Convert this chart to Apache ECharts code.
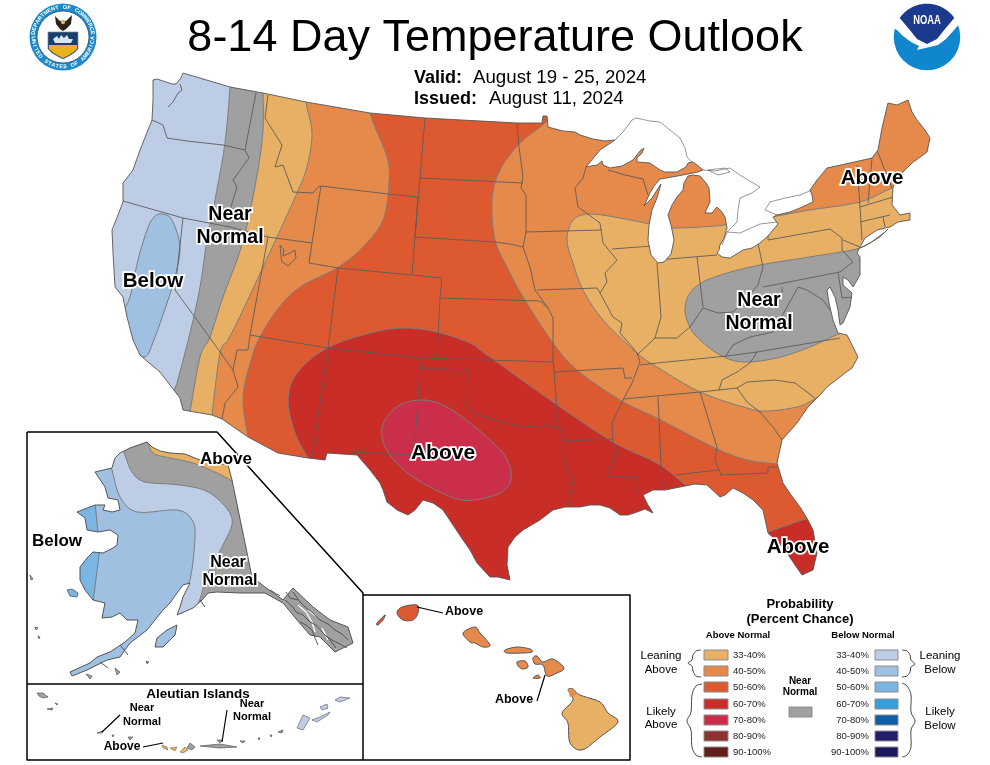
<!DOCTYPE html>
<html><head><meta charset="utf-8">
<style>html,body{margin:0;padding:0;background:#fff}#c{width:990px;height:765px}</style>
<script src="https://cdn.jsdelivr.net/npm/echarts@6/dist/echarts.min.js"></script>
</head><body><div id="c"></div>
<script>
// ---------- text ----------
const chartTitle = '8-14 Day Temperature Outlook';
const validLabel = 'Valid:', validText = 'August 19 - 25, 2024';
const issuedLabel = 'Issued:', issuedText = 'August 11, 2024';
const legendRanges = ['33-40%','40-50%','50-60%','60-70%','70-80%','80-90%','90-100%'];

// ---------- probability colours ----------
const aboveColors = ['#E8B064','#E58A4B','#DD5A30','#C82D28','#CB2E4A','#8F3230','#5F1F18'];
const belowColors = ['#BECDE6','#9FC0E0','#7BB5E4','#36A0DC','#0F5FA8','#241E6B','#1C1A5C'];
const nearColor = '#A0A0A0';

// ---------- CONUS geography ----------
const usOutline = [[153,80],[157,79],[172,84],[176,84],[181,78],[183,73],[230,87],[263,93],[306,102],[370,113],[425,118],[517,123],[542,123],[543,116],[547,116],[548,127],[563,131],[575,132],[580,135],[593,139],[605,141],[615,140],[600,150],[586,167],[597,165],[602,161],[603,165],[610,168],[622,166],[633,160],[640,151],[644,148],[642,153],[637,158],[637,162],[650,163],[660,170],[665,172],[677,172],[686,167],[688,163],[693,162],[697,165],[703,170],[698,172],[688,174],[672,177],[660,179],[654,186],[650,193],[644,206],[652,198],[657,190],[661,184],[657,198],[652,210],[649,225],[648,240],[651,255],[658,263],[664,262],[671,254],[674,240],[671,225],[668,215],[672,205],[677,197],[683,190],[684,183],[688,176],[693,175],[700,176],[706,183],[709,188],[710,202],[705,213],[712,213],[717,207],[722,212],[725,217],[727,228],[724,238],[720,245],[719,250],[717,253],[722,257],[730,258],[743,250],[752,248],[760,243],[768,236],[778,224],[773,217],[777,215],[790,212],[800,208],[813,202],[812,195],[810,190],[817,180],[827,168],[850,163],[872,158],[878,150],[882,128],[888,103],[897,105],[908,100],[912,112],[917,120],[925,130],[930,138],[927,152],[912,163],[902,173],[893,187],[892,205],[900,215],[910,213],[910,220],[898,222],[890,227],[877,230],[865,238],[860,247],[857,253],[860,257],[860,275],[853,287],[848,280],[843,277],[843,285],[852,293],[850,307],[843,323],[840,325],[838,310],[835,297],[830,287],[827,290],[829,303],[833,320],[838,333],[847,335],[852,345],[858,357],[852,368],[845,373],[840,377],[827,387],[820,395],[808,407],[797,423],[782,440],[777,463],[783,483],[791,495],[800,507],[808,520],[813,530],[817,553],[813,570],[802,575],[795,565],[787,553],[778,542],[768,533],[763,510],[753,500],[743,493],[733,488],[725,495],[720,497],[707,485],[695,484],[680,487],[665,490],[653,490],[643,495],[648,505],[653,513],[645,509],[637,512],[628,515],[620,515],[610,508],[600,505],[590,505],[580,507],[565,507],[553,510],[540,520],[523,530],[515,537],[508,547],[507,565],[510,580],[498,577],[490,577],[477,563],[470,550],[463,540],[453,525],[443,510],[433,503],[423,500],[415,510],[408,515],[397,510],[387,502],[383,490],[380,483],[370,470],[357,455],[327,453],[325,460],[308,458],[278,453],[248,437],[222,419],[212,415],[183,410],[180,398],[170,385],[160,372],[148,362],[140,355],[133,340],[127,317],[123,297],[115,287],[113,253],[112,230],[118,215],[123,202],[123,183],[133,170],[140,150],[148,130],[152,120],[153,100]];
const longIsland = [[860,248],[870,243],[885,232],[888,229],[880,237],[865,246]];
const usMaskFrame = [[80,55],[965,55],[965,640],[80,640]];

const stateLines = [
 [[152,120],[163,125],[167,138],[187,141],[223,145],[245,150]],
 [[256,93],[245,150],[249,158],[233,180],[237,187],[230,210]],
 [[123,201],[183,218],[230,227],[268,237],[312,243]],
 [[183,218],[175,290],[197,320],[233,370]],
 [[268,237],[250,335],[248,350],[237,350],[233,370],[238,387],[225,403],[222,419]],
 [[250,335],[328,348]],
 [[312,243],[309,263],[338,268],[328,348],[312,458]],
 [[268,95],[265,118],[282,145],[275,167],[283,165],[293,192],[313,193],[318,187],[321,186]],
 [[321,186],[312,243]],
 [[321,186],[388,194],[418,197],[415,237],[412,275]],
 [[338,268],[412,275],[442,278],[440,298],[437,357]],
 [[425,118],[420,178],[415,237]],
 [[420,178],[523,183]],
 [[415,237],[495,242],[510,244],[523,247]],
 [[440,298],[540,301],[548,308],[553,318],[553,362],[554,372],[557,407],[557,428]],
 [[328,348],[422,358],[553,362]],
 [[422,358],[420,368],[468,370],[467,408],[478,415],[497,420],[513,425],[527,427],[547,425],[563,430],[564,462],[573,480],[568,505]],
 [[420,368],[418,400],[414,455],[354,452]],
 [[517,123],[519,147],[523,177],[521,188],[526,195],[526,232],[523,247],[530,267],[535,290],[548,308]],
 [[526,232],[602,230]],
 [[537,290],[597,288],[600,293]],
 [[554,372],[623,368],[625,378],[632,378]],
 [[564,441],[612,439]],
 [[586,167],[583,178],[575,188],[578,207],[600,223],[603,243],[617,260],[605,273],[607,282],[600,293],[613,317],[622,323],[620,333],[633,348],[637,353],[640,362],[632,383],[623,400],[612,423],[613,443],[617,452],[607,477],[637,477],[638,493]],
 [[608,170],[625,175],[643,179],[648,195]],
 [[612,249],[652,246]],
 [[657,263],[661,317],[655,338],[637,355]],
 [[657,260],[717,255]],
 [[697,257],[703,307]],
 [[655,338],[677,338],[690,327],[703,308],[718,313],[733,312],[745,300],[758,285],[763,267],[758,243]],
 [[640,365],[657,363],[727,356],[757,352],[840,338]],
 [[623,399],[700,392],[719,390],[737,388],[747,382],[775,380],[795,383],[815,398]],
 [[757,352],[750,363],[737,372],[722,380],[719,390]],
 [[737,388],[747,402],[760,412],[773,427],[782,440]],
 [[658,396],[662,488]],
 [[700,392],[717,447],[715,460],[721,475],[768,473],[768,467],[777,467]],
 [[675,475],[718,470]],
 [[725,357],[733,345],[750,337],[773,332],[787,307],[798,287],[807,290],[823,300],[830,310]],
 [[782,287],[782,293]],
 [[763,287],[840,272],[853,262],[842,250],[842,238],[830,229],[768,240],[768,223]],
 [[843,240],[860,247]],
 [[838,272],[842,298],[852,297]],
 [[857,165],[860,207],[862,240]],
 [[872,158],[868,203]],
 [[877,150],[892,188]],
 [[860,207],[893,197]],
 [[860,222],[890,215]],
 [[883,217],[885,227]],
 [[280,245],[284,250],[283,256],[290,253],[295,250],[296,258],[288,266],[282,262],[281,256],[280,245]],
 [[168,107],[173,102],[178,93],[182,90],[180,84]]
];
const canadaShores = [
 [[615,140],[623,132],[632,120],[636,118],[650,121],[660,122],[670,130],[680,138],[685,148],[687,157],[692,162]],
 [[703,170],[715,171],[730,168],[740,175],[748,180],[760,187],[752,193],[740,198],[738,210],[737,222],[727,232],[722,245]],
 [[708,170],[725,168],[730,172],[718,175],[708,170]],
 [[727,232],[740,233],[760,224],[777,222]],
 [[777,215],[765,210],[770,202],[785,198],[800,195],[812,190]]
];

// ---------- CONUS outlook areas (painted back to front; trailing points lie outside the map) ----------
const areaBaseOrange = [[90,60],[960,60],[960,600],[90,600]];
const areaEastYellow = [[930,175],[892,188],[860,202],[810,210],[777,216],[725,225],[672,228],[650,224],[620,218],[590,214],[573,220],[567,240],[573,263],[583,290],[603,320],[637,353],[657,367],[700,392],[747,408],[767,411],[797,407],[813,400],[823,393],[850,395],[950,300]];
const areaEastGray = [[685,308],[690,293],[703,282],[727,273],[760,265],[803,258],[853,250],[875,245],[885,270],[880,330],[845,332],[810,347],[777,358],[743,362],[720,355],[697,337],[688,323]];
const areaRed50 = [[560,100],[546,122],[520,143],[500,170],[492,200],[495,240],[507,267],[523,297],[553,343],[577,370],[620,400],[657,418],[713,447],[747,460],[778,464],[830,468],[830,600],[90,600],[90,60],[400,60]];
const areaWestOrange = [[370,85],[370,113],[387,157],[389,183],[383,220],[363,247],[337,268],[300,287],[277,310],[260,337],[252,357],[243,397],[248,437],[245,470],[90,470],[90,60]];
const areaWestYellow = [[306,80],[306,102],[312,133],[307,167],[297,193],[277,237],[263,267],[243,310],[228,340],[220,353],[212,415],[205,440],[90,440],[90,60]];
const areaWestGray = [[263,80],[263,93],[263,130],[258,170],[247,225],[238,257],[223,297],[210,337],[200,357],[190,412],[185,430],[90,430],[90,60]];
const areaWestBlue33 = [[230,70],[230,87],[225,143],[215,200],[207,240],[200,287],[190,333],[177,383],[170,400],[90,400],[90,60]];
const areaWestBlue40 = [[162,214],[172,220],[180,247],[175,277],[168,300],[155,337],[145,357],[130,345],[120,320],[130,297],[138,260],[147,230],[154,217]];
const areaRed60 = [[308,458],[295,433],[288,400],[297,373],[327,348],[370,333],[403,328],[437,332],[470,343],[480,350],[497,362],[553,402],[613,442],[657,463],[683,483],[700,495],[700,600],[300,600],[300,470]];
const areaFloridaRed60 = [[768,532],[785,526],[802,520],[825,515],[830,590],[770,590]];
const areaRed70 = [[382,437],[385,420],[400,405],[423,400],[445,406],[470,423],[490,440],[502,452],[510,467],[510,483],[500,493],[480,499],[462,500],[440,492],[410,475],[390,455]];

// ---------- Alaska ----------
const insetFrame = [[27,432],[217,432],[363,593],[363,684],[27,684]];
const alaskaOutline = [[120,453],[130,448],[147,442],[152,447],[160,451],[170,453],[185,454],[200,460],[215,463],[228,465],[232,480],[252,577],[265,587],[283,600],[293,588],[313,607],[330,620],[348,627],[353,643],[335,652],[320,637],[310,635],[297,620],[283,603],[265,593],[240,593],[217,592],[208,593],[202,600],[193,608],[177,615],[180,607],[183,597],[190,583],[183,585],[177,593],[170,603],[163,610],[147,630],[130,643],[120,657],[107,660],[87,670],[72,676],[70,672],[90,663],[97,657],[110,652],[125,642],[135,633],[138,620],[127,620],[120,613],[112,617],[102,618],[105,603],[93,600],[85,590],[80,580],[80,567],[87,558],[93,552],[103,553],[113,548],[117,545],[118,535],[110,530],[98,532],[87,530],[85,518],[77,512],[95,505],[105,505],[103,510],[112,512],[120,510],[118,500],[108,498],[105,487],[95,472],[112,468],[115,458]];
const alaskaBlue33 = [[122,446],[125,455],[132,472],[145,482],[180,485],[210,493],[232,518],[223,545],[207,575],[201,596],[197,606],[190,625],[40,625],[40,446]];
const alaskaBlue40 = [[108,460],[112,470],[120,497],[137,512],[177,510],[192,520],[195,537],[190,580],[179,600],[170,622],[155,650],[150,680],[40,680],[40,460]];
const alaskaBlue50North = [[95,502],[98,533],[70,533],[70,502]];
const alaskaBlue50South = [[100,548],[93,602],[70,602],[70,548]];
const alaskaYellow = [[147,439],[153,453],[170,458],[193,463],[217,473],[232,481],[236,470],[200,445]];
const kodiak = [[155,647],[157,638],[167,630],[177,625],[175,635],[163,647]];
const stLawrence = [[67,590],[72,589],[78,593],[77,597],[70,596]];
const akSmallIslands = [[[35,627],[38,628],[36,630]],[[38,636],[40,637],[39,639]],[[30,575],[33,579],[31,580]],[[146,661],[149,662],[147,664]],[[115,668],[120,672],[117,675]],[[86,674],[92,676],[90,679]]];
const panhandleDark = [[[285,600],[292,606],[296,612],[303,615],[310,622],[316,625],[322,632],[330,640],[336,648]],[[293,592],[300,602],[305,607],[313,613],[320,620],[328,624],[335,630],[342,634],[348,640]],[[300,622],[306,625],[312,630],[315,638],[318,645]],[[286,592],[290,598],[298,600]],[[326,636],[332,640],[340,644],[347,648]],[[270,590],[280,596]],[[120,645],[128,655]],[[100,662],[108,668]],[[200,600],[205,607]]];
const panhandleWhite = [[[298,605],[306,612],[312,622],[315,632]],[[308,610],[316,616]],[[322,628],[328,640]]];

// ---------- Aleutians ----------
const aleutianGray = [[[37,693],[43,693],[48,697],[43,698],[39,696]],[[47,709],[53,708],[52,710]],[[55,703],[58,704],[57,705]],[[97,733],[103,731],[102,733]],[[112,735],[114,735],[113,737]],[[128,737],[133,737],[130,740]],[[190,743],[195,747],[192,750],[187,748]],[[200,746],[220,744],[237,747],[220,748]],[[217,740],[222,740],[220,743]],[[240,741],[245,741],[243,743]],[[258,738],[260,738],[259,740]],[[270,735],[272,735],[271,737]],[[278,732],[283,730],[282,733]]];
const aleutianYellow = [[[162,745],[167,747],[168,750],[163,748]],[[170,748],[177,747],[175,751]],[[180,752],[185,747],[188,750],[183,753]]];
const aleutianBlue = [[[297,728],[303,715],[310,718],[303,730]],[[312,720],[320,717],[330,712],[328,715],[317,722]],[[320,707],[327,704],[328,708],[322,710]],[[335,700],[340,697],[350,698],[340,702]]];

// ---------- Hawaii ----------
const kauai = [[397,613],[402,607],[417,605],[418,613],[413,620],[403,620]];
const niihau = [[377,623],[385,615],[383,620],[378,625]];
const oahu = [[463,633],[475,627],[480,633],[490,645],[483,647],[475,643],[470,642]];
const molokai = [[505,650],[517,647],[530,649],[532,652],[523,653],[507,653]];
const lanai = [[517,662],[525,661],[528,667],[523,669],[519,667]];
const maui = [[533,658],[537,656],[543,662],[553,659],[564,668],[557,673],[547,676],[543,665],[535,664]];
const kahoolawe = [[533,678],[538,675],[540,678]];
const bigIsland = [[568,690],[573,689],[580,695],[600,702],[608,713],[618,722],[600,737],[582,750],[570,743],[568,723],[562,713],[573,700]];
const bigIslandTip = [[568,690],[573,689],[578,694],[570,697]];

// ---------- frames, leaders ----------
const frames = [[[27,432],[217,432],[363,593],[363,760]],[[27,684],[363,684]],[[27,432],[27,760],[363,760]],[[363,595],[630,595],[630,760],[363,760]]];
const leaders = [[[102,732],[120,715]],[[222,742],[227,710]],[[143,747],[163,743]],[[417,607],[443,613]],[[545,675],[537,701]]];

// ---------- map labels [text, x, y, size] ----------
const bigLabels = [['Near',230,215,19.5],['Normal',230,238,19.5],['Below',153,281,20.5],['Above',443,453,21],['Above',872,178,20.5],['Near',759,301,19.5],['Normal',759,324,19.5],['Above',798,547,20.5],['Above',226,459,17],['Below',57,541,17],['Near',228,563,16],['Normal',230,581,16]];
const smallLabels = [['Aleutian Islands',198,694,13.5],['Near',142,708,11],['Normal',142,722,11],['Near',252,704,11],['Normal',252,717,11],['Above',122,747,12],['Above',464,612,12.5],['Above',514,700,12.5]];

// ---------- legend ----------
const legendHeads = [['Probability',800,604,13,'bold'],['(Percent Chance)',800,619,13,'bold'],['Above Normal',738,635,9.5,'bold'],['Below Normal',863,635,9.5,'bold'],['Near',800,681,10,'bold'],['Normal',800,692,10,'bold'],['Leaning',661,656,11.5,'normal'],['Above',661,670,11.5,'normal'],['Likely',661,712,11.5,'normal'],['Above',661,725,11.5,'normal'],['Leaning',940,656,11.5,'normal'],['Below',940,670,11.5,'normal'],['Likely',940,712,11.5,'normal'],['Below',940,726,11.5,'normal']];
const legendRowY = [655,671,687,704,720,736,752];
const braces = [
 [[701,650],[696,651],[693,655],[692,660],[688,663],[692,666],[693,671],[696,676],[701,677]],
 [[702,684],[696,686],[692,695],[691,712],[687,721],[691,730],[692,747],[696,755],[702,757]],
 [[902,650],[907,651],[910,655],[911,660],[915,664],[911,667],[910,672],[907,676],[902,677]],
 [[902,683],[907,686],[911,695],[911,712],[915,721],[911,730],[911,747],[907,755],[902,757]]
];

// ---------- helpers ----------
let zOrder = 1;
function area(rings, fill, opt) {
  opt = opt || {};
  return {type:'custom', coordinateSystem:'cartesian2d', silent:true, clip:false, z:zOrder++,
    encode:{x:0,y:1}, data:rings.map(r=>[r[0][0],r[0][1]]),
    renderItem:(p,api)=>({type:'polygon',
      shape:{points:rings[p.dataIndex].map(q=>api.coord(q)),smooth:opt.smooth||0},
      style:{fill:fill,stroke:opt.stroke||null,lineWidth:opt.width||0}})};
}
function lines(paths, color, width, smooth) {
  return {type:'custom', coordinateSystem:'cartesian2d', silent:true, clip:false, z:zOrder++,
    encode:{x:0,y:1}, data:paths.map(r=>[r[0][0],r[0][1]]),
    renderItem:(p,api)=>({type:'polyline',
      shape:{points:paths[p.dataIndex].map(q=>api.coord(q)),smooth:smooth||0},
      style:{fill:null,stroke:color,lineWidth:width,lineJoin:'round'}})};
}
function texts(items, o) {
  return {type:'custom', coordinateSystem:'cartesian2d', silent:true, clip:false, z:zOrder++,
    encode:{x:1,y:2}, data:items.map(t=>[t[0],t[1],t[2]]), dimensions:['t','x','y'],
    renderItem:(p,api)=>{const t=items[p.dataIndex],c=api.coord([t[1],t[2]]);
      return {type:'text',style:{text:t[0],x:c[0],y:c[1],fontSize:t[3],fontWeight:t[4]||o.weight||'bold',
        fontFamily:o.family||'"Liberation Sans",Arial,sans-serif',fill:o.fill||'#000',
        stroke:o.halo?'#fff':null,lineWidth:o.halo||0,align:t[5]||o.align||'center',verticalAlign:'middle'}};}};
}
function signedArea(r){let s=0;r.forEach((p,i)=>{const q=r[(i+1)%r.length];s+=p[0]*q[1]-q[0]*p[1];});return s;}
function keyhole(outer, hole){
  let h=hole.slice();
  if(signedArea(outer)*signedArea(h)>0) h.reverse();
  const o=outer[0];let k=0,b=1e12;
  h.forEach((p,i)=>{const d=(p[0]-o[0])**2+(p[1]-o[1])**2;if(d<b){b=d;k=i;}});
  const rot=h.slice(k).concat(h.slice(0,k));
  return outer.concat([o]).concat(rot).concat([rot[0]]);
}
// Rounds a drawn contour only; the traced vertices themselves are kept.
function rounded(pts, closed){
  const out=[],n=pts.length,g=i=>closed?pts[(i+n)%n]:pts[Math.max(0,Math.min(n-1,i))];
  const last=closed?n:n-1;
  for(let i=0;i<last;i++){const a=g(i-1),b=g(i),c=g(i+1),d=g(i+2);
    for(let k=0;k<5;k++){const t=k/5,t2=t*t,t3=t2*t;
      out.push([0,1].map(j=>0.5*(2*b[j]+(c[j]-a[j])*t+(2*a[j]-5*b[j]+4*c[j]-d[j])*t2+(3*b[j]-a[j]-3*c[j]+d[j])*t3)));}}
  if(!closed)out.push(pts[n-1]);
  return out;
}
const ZONE='#7d7d7d', COAST='#555555';
const [aY,aO,aR5,aR6,aR7]=aboveColors, [bL,bM,bH]=belowColors;
// offMap = how many trailing points are closure points outside the map; 0 = a closed contour
const z=(r,c,offMap)=>{
  const ring=offMap?rounded(r.slice(0,r.length-offMap),false).concat(r.slice(r.length-offMap)):rounded(r,true);
  return area([ring],c,{stroke:ZONE,width:1});
};

const series=[
  area([areaBaseOrange],aO),
  z(areaEastYellow,aY,2), z(areaEastGray,nearColor,0),
  z(areaRed50,aR5,5), z(areaWestOrange,aO,3), z(areaWestYellow,aY,3),
  z(areaWestGray,nearColor,3), z(areaWestBlue33,bL,3), z(areaWestBlue40,bM,0),
  z(areaRed60,aR6,4), z(areaFloridaRed60,aR6,3), z(areaRed70,aR7,0),
  lines(stateLines,'#5c5c5c',0.9),
  area([keyhole(usMaskFrame,usOutline)],'#ffffff'),
  lines([usOutline.concat([usOutline[0]])],COAST,0.9),
  area([longIsland],aY,{stroke:COAST,width:0.8}),
  lines(canadaShores,'#6a6a6a',0.7),
  // Alaska inset
  area([insetFrame],nearColor),
  z(alaskaBlue33,bL,3), z(alaskaBlue40,bM,3),
  area([alaskaBlue50North,alaskaBlue50South],bH,{stroke:ZONE,width:1}),
  z(alaskaYellow,aY,2),
  area([keyhole(insetFrame,alaskaOutline)],'#ffffff'),
  lines(panhandleWhite,'#ffffff',1.3),
  lines(panhandleDark,'#4a4a4a',0.9),
  lines([alaskaOutline.concat([alaskaOutline[0]])],COAST,1),
  area([kodiak],bM,{stroke:COAST,width:1}),
  area([stLawrence],bH,{stroke:COAST,width:0.8}),
  area(akSmallIslands,nearColor,{stroke:COAST,width:0.7}),
  // Aleutians
  area(aleutianGray,nearColor,{stroke:COAST,width:0.7}),
  area(aleutianYellow,aY,{stroke:COAST,width:0.5}),
  area(aleutianBlue,bL,{stroke:COAST,width:0.6}),
  // Hawaii
  area([kauai,niihau].map(r=>rounded(r,true)),aR5,{stroke:COAST,width:1}),
  area([oahu,molokai,lanai,maui,kahoolawe].map(r=>rounded(r,true)),aO,{stroke:COAST,width:1}),
  area([rounded(bigIsland,true)],aY,{stroke:COAST,width:1}),
  area([bigIslandTip],aO),
  // frames + leaders
  lines(frames,'#000',1.5),
  lines(leaders,'#000',1.2),
  texts(bigLabels,{halo:3.5}),
  texts(smallLabels,{}),
  texts([[validLabel,414,78,18,'bold','left'],[validText,473,78,18.7,'normal','left'],[issuedLabel,414,99,18,'bold','left'],[issuedText,489,99,18.7,'normal','left']],{}),
  // legend
  ...legendRowY.map((y,i)=>area([[[704,y-5],[728,y-5],[728,y+5],[704,y+5]]],aboveColors[i],{stroke:'#8c8c8c',width:1})),
  ...legendRowY.map((y,i)=>area([[[875,y-5],[898,y-5],[898,y+5],[875,y+5]]],belowColors[i],{stroke:'#8c8c8c',width:1})),
  area([[[789,707],[812,707],[812,717],[789,717]]],nearColor,{stroke:'#8c8c8c',width:1}),
  lines(braces.map(b=>rounded(b,false)),'#333',0.9),
  texts(legendHeads,{}),
  texts(legendRanges.map((t,i)=>[t,733,legendRowY[i],9.5,'normal','left']),{fill:'#222'}),
  texts(legendRanges.map((t,i)=>[t,869,legendRowY[i],9.5,'normal','right']),{fill:'#222'})
];

// ---------- logos ----------
function ringLetters(str,cx,cy,r,from,to,top){
  const out=[],n=str.length;
  for(let i=0;i<n;i++){const a=(from+(to-from)*i/(n-1))*Math.PI/180;
    if(str[i]===' ')continue;
    out.push({type:'text',x:cx+r*Math.sin(a),y:top?cy-r*Math.cos(a):cy+r*Math.cos(a),rotation:top?-a:a,z:200,silent:true,
      style:{text:str[i],fill:'#fff',font:'bold 5.4px "Liberation Sans",Arial,sans-serif',align:'center',verticalAlign:'middle'}});}
  return out;
}
function poly(x,y,pts,fill,zv,extra){return {type:'polygon',x:x,y:y,z:zv,silent:true,shape:{points:pts},style:Object.assign({fill:fill},extra||{})};}
const sx=63,sy=37,nx=927,ny=37;
const noaaArc=[];for(let a=-55;a<=55;a+=5){const t=a*Math.PI/180;noaaArc.push([33.3*Math.sin(t),-33.3*Math.cos(t)]);}
const logo=[
  {type:'circle',shape:{cx:sx,cy:sy,r:33.5},style:{fill:'#1C8AC9'},z:190,silent:true},
  {type:'circle',shape:{cx:sx,cy:sy,r:26},style:{fill:'#fff',stroke:'#123a70',lineWidth:0.7},z:191,silent:true},
  poly(sx,sy,[[-15,-5],[15,-5],[15,12],[11,16],[5,19.5],[0,22],[-5,19.5],[-11,16],[-15,12]],'#17406F',192,{stroke:'#8a8a8a',lineWidth:0.7}),
  poly(sx,sy,[[-14,8],[14,8],[14,12],[10,15.5],[5,18.5],[0,21],[-5,18.5],[-10,15.5],[-14,12]],'#E9B31D',193),
  poly(sx,sy,[[-10,2],[-6,-1],[-4,2],[-2,-2],[1,1],[4,-2],[6,2],[10,2],[8,6],[-8,6]],'#dfe5ee',193),
  poly(sx,sy,[[-8,-21],[-3,-16],[0,-16],[3,-16],[9,-22],[8,-13],[3,-8],[0,-6],[-3,-8],[-7,-13]],'#2a2418',193),
  {type:'circle',shape:{cx:sx,cy:sy-15,r:2.2},style:{fill:'#d7b469'},z:194,silent:true},
  ...ringLetters('DEPARTMENT OF COMMERCE',sx,sy,29.7,-82,82,true),
  ...ringLetters('UNITED STATES OF AMERICA',sx,sy,29.7,-88,88,false),
  {type:'circle',shape:{cx:nx,cy:ny,r:33.3},style:{fill:'#0F86CE'},z:190,silent:true},
  poly(nx,ny,[[-36,-40],[36,-40],[36,-18],[28,-8],[19,2],[11,8],[-10,13],[-8,9],[-16,5],[-24,-1],[-30,-7],[-36,-10]],'#fff',191),
  poly(nx,ny,noaaArc.concat([[18,-8],[10,2],[0,7],[-10,2],[-18,-8]]),'#1B3A8C',192),
  {type:'text',x:nx,y:ny-16,scaleX:0.75,z:193,silent:true,style:{text:'NOAA',fill:'#fff',font:'bold 12.5px "Liberation Sans",Arial,sans-serif',align:'center',verticalAlign:'middle'}}
];

const chart=echarts.init(document.getElementById('c'),null,{renderer:'canvas',width:990,height:765});
chart.setOption({
  animation:false,
  backgroundColor:'#fff',
  title:{text:chartTitle,left:'center',top:16,padding:0,textStyle:{fontFamily:'"Liberation Sans",Arial,sans-serif',fontSize:45,fontWeight:'normal',color:'#000'},z:300},
  grid:{left:0,right:0,top:0,bottom:0},
  xAxis:{type:'value',min:0,max:990,show:false},
  yAxis:{type:'value',min:0,max:765,inverse:true,show:false},
  tooltip:{show:false},
  series:series,
  graphic:{elements:logo}
});
</script></body></html>
